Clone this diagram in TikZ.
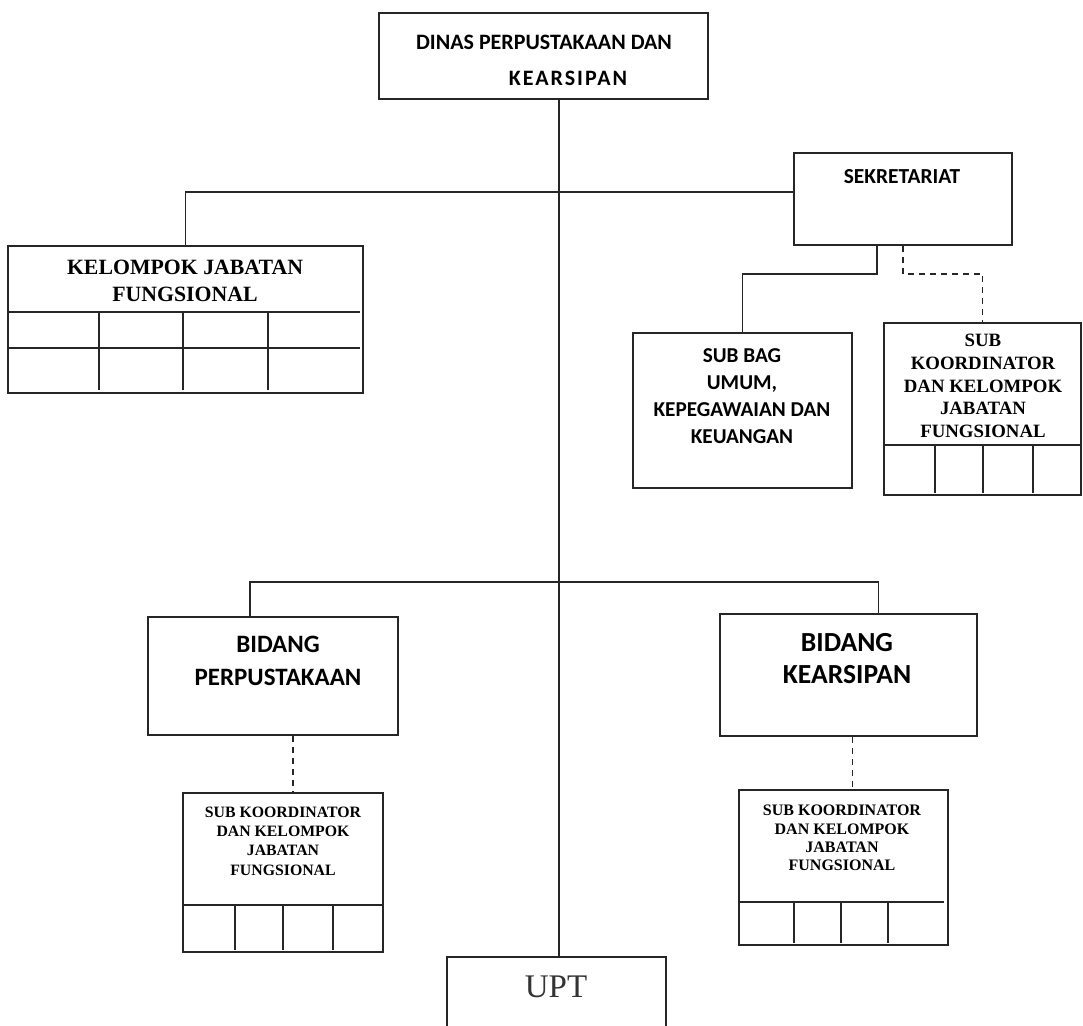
\documentclass[tikz,border=0pt]{standalone}
\usepackage{fontspec}
\setmainfont{Liberation Serif}[BoldFont={Liberation Serif Bold}]
\newfontfamily\calibri{Carlito}[BoldFont={Carlito Bold}]
\usetikzlibrary{fit}

\tikzset{
    box/.style={draw,inner sep=0pt},
    calb/.style n args={2}{font=\calibri\bfseries\fontsize{#1}{#2}\selectfont,align=center,inner sep=0pt,text=black},
    timb/.style n args={2}{font=\bfseries\fontsize{#1}{#2}\selectfont,align=center,inner sep=0pt,text=black},
    dashline/.style={dash pattern=on 3pt off 2.5pt}
}

\begin{document}
\begin{tikzpicture}[x=0.5pt,y=-0.5pt,line width=0.9pt,black!85]
    \clip (0,0) rectangle (1083,1026);
    \coordinate (spine) at (559,0);
    \coordinate (rowA) at (0,192);
    \coordinate (rowB) at (0,582);

    \node[box,fit={(379,13) (708,99)}] (dinas) {};
    \node[calb={11}{18}] (dinasT) at (544,60) {DINAS PERPUSTAKAAN DAN\\\hspace*{24pt}{\addfontfeature{LetterSpace=9}KEARSIPAN}};

    \node[box,fit={(794,153) (1012,245)}] (sek) {};
    \node[calb={10.7}{12}] (sekT) at (902,177) {SEKRETARIAT};

    \node[box,fit={(8,246) (363,393)}] (kjf) {};
    \node[timb={10.9}{13.5}] (kjfT) at (185,281) {KELOMPOK JABATAN\\FUNGSIONAL};
    \foreach \gy in {312,348} \draw (8,\gy) -- (360,\gy);
    \foreach \gx in {99,183,268} \draw (\gx,312) -- (\gx,390);

    \node[box,fit={(633,333) (852,488)}] (subbag) {};
    \node[calb={10.6}{13.5}] (subbagT) at (742,396) {SUB BAG\\UMUM,\\KEPEGAWAIAN DAN\\KEUANGAN};

    \node[box,fit={(884,323) (1081,495)}] (skr) {};
    \node[timb={9.4}{11.3}] (skrT) at (983,386) {SUB\\KOORDINATOR\\DAN KELOMPOK\\JABATAN\\FUNGSIONAL};
    \draw (884,445) -- (1081,445);
    \foreach \gx in {935,983,1033} \draw (\gx,445) -- (\gx,493);

    \node[box,fit={(148,617) (398,735)}] (bp) {};
    \node[calb={12.5}{16.5}] (bpT) at (278,661) {BIDANG\\PERPUSTAKAAN};

    \node[box,fit={(720,614) (977,736)}] (bk) {};
    \node[calb={13.8}{16}] (bkT) at (847,659) {BIDANG\\KEARSIPAN};

    \node[box,fit={(183,793) (383,952)}] (lsk) {};
    \node[timb={7.9}{9.7}] (lskT) at (283,841) {SUB KOORDINATOR\\DAN KELOMPOK\\JABATAN\\FUNGSIONAL};
    \draw (183,905) -- (383,905);
    \foreach \gx in {235,283,333} \draw (\gx,905) -- (\gx,950);

    \node[box,fit={(739,790) (948,945)}] (rsk) {};
    \node[timb={8}{9.2}] (rskT) at (842,838) {SUB KOORDINATOR\\DAN KELOMPOK\\JABATAN\\FUNGSIONAL};
    \draw (739,902) -- (944,902);
    \foreach \gx in {794,841,888} \draw (\gx,902) -- (\gx,943);

    \node[box,fit={(447,957) (666,1045)}] (upt) {};
    \node[font=\fontsize{16.5}{18}\selectfont,inner sep=0pt,text=black!80] (uptT) at (556,987) {UPT};

    \draw (dinas.south -| spine) -- (upt.north -| spine);
    \draw (kjf.north) |- (sek.west |- rowA);
    \draw ([xshift=-13pt]sek.south) -- ++(0,28) -| (subbag.north);
    \draw[dashline] (sek.south) -- ++(0,28) -| (skr.north);
    \draw ([xshift=-11.5pt]bp.north) |- (rowB -| spine) -| ([xshift=15pt]bk.north);
    \draw[dashline] ([xshift=10pt]bp.south) -- ([xshift=10pt]bp.south |- lsk.north);
    \draw[dashline] ([xshift=2pt]bk.south) -- ([xshift=2pt]bk.south |- rsk.north);
\end{tikzpicture}
\end{document}
